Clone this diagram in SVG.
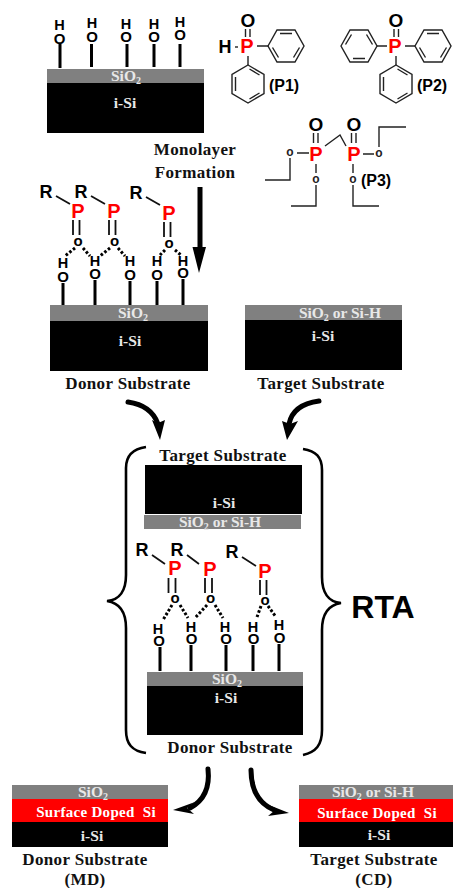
<svg xmlns="http://www.w3.org/2000/svg" width="453" height="888" viewBox="0 0 453 888" xmlns:xlink="http://www.w3.org/1999/xlink">
<style>
.g{fill:#808080}.k{fill:#000}.r{fill:#f00}
text{font-family:"Liberation Serif","Times New Roman",serif;font-weight:bold;text-anchor:middle}
.w{fill:#e8e8e8;font-size:15.5px}.wb{fill:#fff;font-size:15px;letter-spacing:.3px;white-space:pre}
.l{fill:#111;font-size:17px;letter-spacing:.35px}
.s{font-family:"Liberation Sans",Arial,sans-serif;fill:#000}
.p{font-size:20px;fill:#f00}.a{font-size:18px}.h{font-size:14.5px}.lab{font-size:16px}.O{font-size:15px}.u{font-size:15px}.v{font-size:12px;fill:#222}
.b{stroke:#000;fill:none;stroke-width:3}.t{stroke:#222;fill:none;stroke-width:1.4}.m{stroke:#111;fill:none;stroke-width:1.8}
.d{stroke:#000;fill:none;stroke-width:3;stroke-dasharray:2.6 2}
.ar{fill:none;stroke:#000;stroke-width:5;stroke-linecap:round}.br{fill:none;stroke:#000;stroke-width:2.6}
</style>
<defs>
<path id="hexf" class="t" d="M-18 0L-9-16H9L18 0L9 16H-9ZM-6-12.500H6M13.500 1.500L7.500 11.500M-13.500 1.500L-7.500 11.500"/>
<path id="hexf2" class="t" d="M-18 0L-9-16H9L18 0L9 16H-9ZM-6 12.500H6M13.500-1.500L7.500-11.500M-13.500-1.500L-7.500-11.500"/>
<path id="hexp" class="t" d="M0-19L16-9.500V9.500L0 19L-16 9.500V-9.500ZM1.500-15L11.500-9M11.500 9L1.500 15M-12.500-7V7"/>
</defs>

<g id="connectors">
<path class="m" d="M56 196L70 204M91 196L105 204M146 197L160 205"/>
<path class="d" d="M75 248L65 256M83 248L90 256M110 248L100 256M118 248L125 256M165 250L160 255M175 250L182 256"/>
<path class="m" d="M152 555L165 564M187 555L199 564M242 557L256 566"/>
<path class="d" d="M172 605L163 620M180 605L188 618M207 605L195 618M215 605L223 618M261 606L257 617M268 606L276 617"/>
<path d="M197.500 187h5v60l3.500 0L199 273L192.500 247l5 0Z" class="k"/>
<path class="ar" d="M128 402C142 404 153 410 158 424"/>
<path class="k" d="M152 420L160 440L165 420L158 423Z"/>
<path class="ar" d="M319 401C304 403 292 409 289 424"/>
<path class="k" d="M282 421L287 440L298 421L290 424Z"/>
<path class="ar" d="M208 769C210 787 205 800 190 808"/>
<path class="k" d="M173 810L195 802L187 808L194 814Z"/>
<path class="ar" d="M251 770C251 790 258 803 274 810"/>
<path class="k" d="M289 813L269 805L274 811L268 816Z"/>
<path class="br" d="M146 447C132 449 126 456 126 468V575C126 590 120 600 107 601C120 603 126 612 126 628V730C126 744 132 751 146 753"/>
<path class="br" d="M303 449C316 451 322 457 322 470V577C322 592 328 602 341 603C328 605 322 614 322 630V730C322 745 316 752 303 755"/>
</g>

<g id="substrate-initial">
<rect class="g" x="47" y="69" width="157" height="14"/><rect class="k" x="47" y="83" width="157" height="50"/>
<text class="w" x="126" y="81">SiO<tspan font-size="10" dy="3">2</tspan></text><text class="w" x="125" y="108">i-Si</text>
<path class="b" d="M60 44V68M91.500 44V67M127 44V67M154 44V67M180 44V67"/>
<text class="s h" x="59.500" y="30">H</text><text class="s h" x="92" y="28">H</text><text class="s h" x="126" y="29">H</text><text class="s h" x="154" y="29">H</text><text class="s h" x="180" y="27">H</text>
<text class="s O" x="59.500" y="43.500">O</text><text class="s O" x="92" y="41.500">O</text><text class="s O" x="126" y="41.500">O</text><text class="s O" x="154" y="41.500">O</text><text class="s O" x="180" y="39.500">O</text>
</g>

<g id="P1">
<use xlink:href="#hexf" href="#hexf" x="286" y="46"/><use xlink:href="#hexp" href="#hexp" x="248" y="84"/>
<path class="t" d="M257 46H269M248 56V65M245.500 29V37M250 29V37"/>
<text class="s a" x="225" y="53">H</text><path class="t" d="M235 47H238" stroke-width="2"/>
<text class="s p" x="247" y="53">P</text>
<text class="s" x="248" y="27" font-size="19">O</text>
<text class="s lab" x="284" y="91">(P1)</text>
</g>

<g id="P2">
<use xlink:href="#hexf2" href="#hexf2" x="359" y="46"/><use xlink:href="#hexf" href="#hexf" x="433" y="46"/><use xlink:href="#hexp" href="#hexp" x="396" y="84"/>
<path class="t" d="M377 46H387M405 46H415M396 56V65M394 29V37M398.500 29V37"/>
<text class="s p" x="395" y="53">P</text>
<text class="s" x="396" y="27" font-size="19">O</text>
<text class="s lab" x="432" y="91">(P2)</text>
</g>

<g id="P3">
<path class="t" d="M325 146L340 135L346 146M313.500 133V143M318 133V143M351.500 133V143M356 133V143M297 153H309M363 154H374M316 164V173M353 164V173M290 158V180H265M316 185V206H291M353 185V206H379M379 147V127H406"/>
<text class="s p" x="316" y="161">P</text><text class="s p" x="354" y="161">P</text>
<text class="s" x="316" y="131" font-size="19">O</text><text class="s" x="354" y="131" font-size="19">O</text>
<text class="s v" x="290" y="156">o</text><text class="s v" x="379" y="156.500">o</text><text class="s v" x="316" y="182.500">o</text><text class="s v" x="353" y="182.500">o</text>
<text class="s lab" x="376" y="186">(P3)</text>
</g>

<g id="monolayer-label"><text class="l" x="195" y="155">Monolayer</text><text class="l" x="195" y="178">Formation</text></g>

<g id="donor-substrate">
<path class="b" d="M63 283V306M95 280V306M130 281V306M157 281V306M183 279V306"/>
<path class="m" d="M73 220V235M79.500 220V235M109 220V235M115.500 220V235M164 222V237M170.500 222V237" stroke-width="2"/>
<text class="s a" x="46" y="198">R</text><text class="s a" x="81" y="198">R</text><text class="s a" x="136" y="199">R</text>
<text class="s p" x="78" y="218">P</text><text class="s p" x="114" y="218">P</text><text class="s p" x="169" y="220">P</text>
<text class="s u" x="78" y="246">o</text><text class="s u" x="114.500" y="246">o</text><text class="s u" x="169" y="248">o</text>
<text class="s h" x="63" y="268">H</text><text class="s h" x="95" y="266">H</text><text class="s h" x="130" y="266">H</text><text class="s h" x="157" y="266">H</text><text class="s h" x="183" y="266">H</text>
<text class="s O" x="63" y="281.500">O</text><text class="s O" x="95" y="279">O</text><text class="s O" x="130" y="279.500">O</text><text class="s O" x="157" y="279.500">O</text><text class="s O" x="183" y="277.500">O</text>
<rect class="g" x="50" y="305" width="158" height="16"/><rect class="k" x="50" y="321" width="158" height="50"/>
<text class="w" x="133" y="318">SiO<tspan font-size="10" dy="3">2</tspan></text><text class="w" x="130" y="346">i-Si</text>
<text class="l" x="128" y="389">Donor Substrate</text>
</g>

<g id="target-substrate">
<rect class="g" x="245" y="305" width="157" height="15"/><rect class="k" x="245" y="320" width="157" height="50"/>
<text class="w" x="340" y="318">SiO<tspan font-size="10" dy="3">2</tspan><tspan dy="-3"> or Si-H</tspan></text><text class="w" x="323" y="341">i-Si</text>
<text class="l" x="321" y="389">Target Substrate</text>
</g>

<g id="rta-stack">
<text class="l" x="223" y="461">Target Substrate</text>
<rect class="k" x="145" y="465" width="157" height="49"/><rect class="g" x="144" y="515" width="157" height="14"/>
<text class="w" x="224" y="508">i-Si</text>
<text class="w" x="220" y="527">SiO<tspan font-size="10" dy="3">2</tspan><tspan dy="-3"> or Si-H</tspan></text>
<path class="b" d="M160 647V671M191 645V671M226 645V671M253 645V671M279 644V671"/>
<path class="m" d="M168.500 578V593M175.500 578V593M205 578V593M212 578V593M260 580V595M266.500 580V595" stroke-width="2"/>
<text class="s a" x="142" y="556">R</text><text class="s a" x="177" y="556">R</text><text class="s a" x="232" y="558">R</text>
<text class="s p" x="175" y="575">P</text><text class="s p" x="210" y="576">P</text><text class="s p" x="265" y="578">P</text>
<text class="s u" x="175" y="603">o</text><text class="s u" x="210.500" y="602.500">o</text><text class="s u" x="265" y="605">o</text>
<text class="s h" x="158" y="634">H</text><text class="s h" x="191" y="632">H</text><text class="s h" x="225" y="632">H</text><text class="s h" x="253" y="632">H</text><text class="s h" x="279" y="630">H</text>
<text class="s O" x="159" y="645.500">O</text><text class="s O" x="191.500" y="643.500">O</text><text class="s O" x="226" y="643.500">O</text><text class="s O" x="253.500" y="643.500">O</text><text class="s O" x="279.500" y="642.500">O</text>
<rect class="g" x="147" y="672" width="156" height="14"/><rect class="k" x="147" y="686" width="156" height="49"/>
<text class="w" x="227" y="684">SiO<tspan font-size="10" dy="3">2</tspan></text><text class="w" x="226" y="703">i-Si</text>
<text class="l" x="230" y="753">Donor Substrate</text>
</g>

<g id="rta-label"><text class="s" x="383" y="618" font-size="32">RTA</text></g>

<g id="donor-result">
<rect class="g" x="12" y="785" width="156" height="14"/><rect class="r" x="12" y="799" width="156" height="23"/><rect class="k" x="12" y="822" width="156" height="25"/>
<text class="w" x="93" y="797">SiO<tspan font-size="10" dy="3">2</tspan></text><text class="wb" x="96" y="817">Surface Doped  Si</text><text class="w" x="92" y="841">i-Si</text>
<text class="l" x="85" y="865">Donor Substrate</text><text class="l" x="85" y="885">(MD)</text>
</g>

<g id="target-result">
<rect class="g" x="299" y="785" width="154" height="14"/><rect class="r" x="299" y="799" width="154" height="23"/><rect class="k" x="299" y="822" width="154" height="25"/>
<text class="w" x="373" y="797">SiO<tspan font-size="10" dy="3">2</tspan><tspan dy="-3"> or Si-H</tspan></text><text class="wb" x="377" y="818">Surface Doped  Si</text><text class="w" x="379" y="840">i-Si</text>
<text class="l" x="374" y="865">Target Substrate</text><text class="l" x="374" y="885">(CD)</text>
</g>
</svg>
